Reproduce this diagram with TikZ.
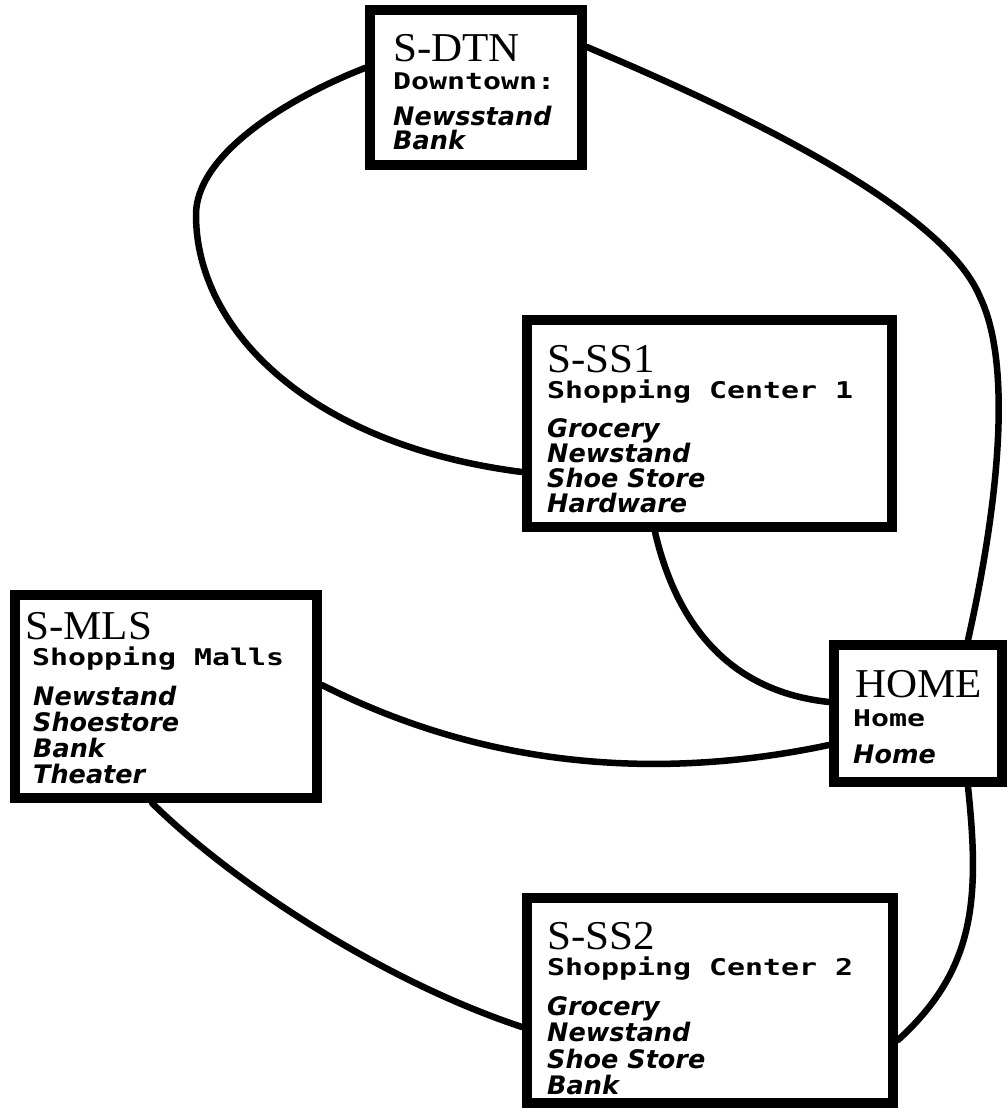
\documentclass[tikz,border=0pt]{standalone}
\usepackage{fontspec}
\newfontfamily\namefont[FakeStretch=1.05]{Liberation Serif}
\newfontfamily\subfont[FakeStretch=1.3]{DejaVu Sans Mono Bold}
\newfontfamily\itemfont{DejaVu Sans Bold Oblique}

\begin{document}
\begin{tikzpicture}[
  x=1pt,
  y=-1pt,
  store/.style={draw,line width=10pt,inner sep=0pt,line join=miter},
  storename/.style={anchor=base west,inner sep=0pt,font=\namefont\fontsize{41}{41}\selectfont},
  storesub/.style={anchor=base west,inner sep=0pt,font=\subfont\fontsize{23}{23}\selectfont},
  storeitem/.style={anchor=base west,inner sep=0pt,font=\itemfont\fontsize{25.5}{26}\selectfont},
  link/.style={line width=6.5pt,line cap=round,line join=round}
]

\useasboundingbox[fill=white] (0,0) rectangle (1008,1112);

% ------------------------------------------------------------------
% Downtown
% ------------------------------------------------------------------
\node[store,minimum width=212,minimum height=155] (dtn) at (476,87.5) {};
\node[storename] (dtn-name) at (393,61) {S-DTN};
\node[storesub] (dtn-sub) at (393,89) {Downtown:};
\foreach \txt [count=\i] in {Newsstand,Bank}
  \node[storeitem] (dtn-\i) at (393,101+24*\i) {\txt};

% ------------------------------------------------------------------
% Shopping center 1
% ------------------------------------------------------------------
\node[store,minimum width=365,minimum height=207] (ss1) at (709.5,423.5) {};
\node[storename] (ss1-name) at (547,372) {S-SS1};
\node[storesub] (ss1-sub) at (547,398) {Shopping Center 1};
\foreach \txt [count=\i] in {Grocery,Newstand,Shoe Store,Hardware}
  \node[storeitem] (ss1-\i) at (547,412+25*\i) {\txt};

% ------------------------------------------------------------------
% Shopping malls
% ------------------------------------------------------------------
\node[store,minimum width=302,minimum height=203] (mls) at (166,696.5) {};
\node[storename] (mls-name) at (25,639) {S-MLS};
\node[storesub] (mls-sub) at (32,665) {Shopping Malls};
\foreach \txt [count=\i] in {Newstand,Shoestore,Bank,Theater}
  \node[storeitem] (mls-\i) at (33,679+26*\i) {\txt};

% ------------------------------------------------------------------
% Home
% ------------------------------------------------------------------
\node[store,minimum width=168,minimum height=137] (hm) at (918,713.5) {};
\node[storename] (hm-name) at (855,697) {HOME};
\node[storesub] (hm-sub) at (853,726) {Home};
\node[storeitem] (hm-1) at (853,763) {Home};

% ------------------------------------------------------------------
% Shopping center 2
% ------------------------------------------------------------------
\node[store,minimum width=366,minimum height=205] (ss2) at (710,1000.5) {};
\node[storename] (ss2-name) at (547,949) {S-SS2};
\node[storesub] (ss2-sub) at (547,975) {Shopping Center 2};
\foreach \txt [count=\i] in {Grocery,Newstand,Shoe Store,Bank}
  \node[storeitem] (ss2-\i) at (547,988.5+26.5*\i) {\txt};

% ------------------------------------------------------------------
% Roads
% ------------------------------------------------------------------
\draw[link] (dtn.west |- 0,68) .. controls (300,93) and (196,150) .. (196,215)
  .. controls (196,330) and (310,445) .. (ss1.west |- 0,472);
\draw[link] (dtn.east |- 0,47) .. controls (700,95) and (940,200) .. (980,297)
  .. controls (1015,370) and (995,520) .. (hm.north -| 968,0);
\draw[link] (ss1.south -| 655,0) .. controls (672,605) and (715,690) .. (hm.west |- 0,702);
\draw[link] (mls.east |- 0,685) .. controls (470,760) and (640,785) .. (hm.west |- 0,745);
\draw[link] (mls.south -| 152,0) .. controls (230,880) and (380,980) .. (ss2.west |- 0,1027);
\draw[link] (hm.south -| 968,0) .. controls (980,900) and (975,970) .. (ss2.east |- 0,1040);

\end{tikzpicture}
\end{document}
